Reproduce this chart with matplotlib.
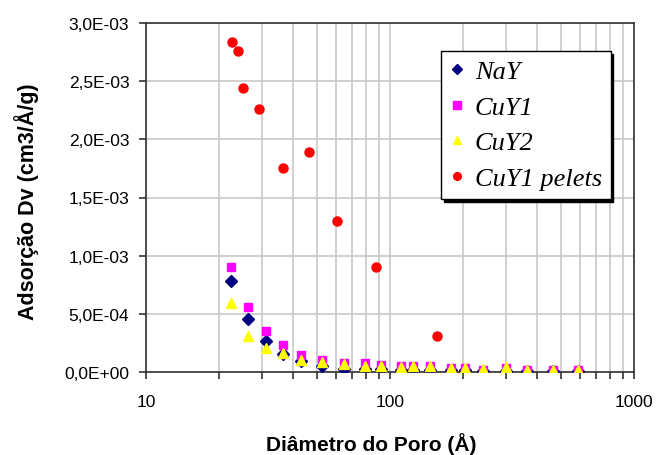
import matplotlib
matplotlib.use("Agg")
import matplotlib.pyplot as plt
from matplotlib.ticker import FuncFormatter, LogLocator, NullFormatter

plt.rcParams["font.family"] = ["Liberation Sans", "DejaVu Sans"]

# pore diameter (Å) shared by the powder samples
diam = [22.3, 26.2, 31.0, 36.6, 43.3, 52.5, 65.0, 79.3, 92.0, 111.2,
        124.2, 145.2, 177, 202, 240, 298, 366, 467, 590]
nay = [7.85e-4, 4.56e-4, 2.64e-4, 1.55e-4, 9.7e-5, 5.4e-5, 3.0e-5, 2.6e-5, 2.2e-5, 2.0e-5,
       1.8e-5, 1.6e-5, 1.5e-5, 1.4e-5, 1.2e-5, 1.2e-5, 1.0e-5, 1.0e-5, 1.0e-5]
cuy1 = [9.0e-4, 5.56e-4, 3.5e-4, 2.32e-4, 1.46e-4, 1.03e-4, 7.7e-5, 7.7e-5, 6.3e-5, 5.4e-5,
        5.4e-5, 5.4e-5, 3.4e-5, 3.4e-5, 2.0e-5, 3.4e-5, 2.0e-5, 2.0e-5, 2.0e-5]
cuy2 = [5.9e-4, 3.07e-4, 2.04e-4, 1.63e-4, 1.06e-4, 8.3e-5, 6.9e-5, 5.4e-5, 5.4e-5, 4.6e-5,
        5.4e-5, 5.4e-5, 3.4e-5, 3.4e-5, 2.6e-5, 4.0e-5, 2.0e-5, 2.0e-5, 2.0e-5]

# pellets have their own diameters
diam_pel = [22.5, 23.8, 25.0, 29.0, 36.4, 46.5, 60.8, 87.7, 155.6]
cuy1_pel = [2.84e-3, 2.756e-3, 2.44e-3, 2.263e-3, 1.753e-3, 1.89e-3, 1.30e-3, 0.90e-3, 0.312e-3]

W, H = 658, 456
fig = plt.figure(figsize=(W / 100, H / 100), dpi=100)
ax = fig.add_axes([146 / W, 83 / H, (634 - 146) / W, (373 - 24) / H])

ax.plot(diam, nay, ls="none", marker="D", ms=6.2, color="#000080", label="NaY", zorder=3)
ax.plot(diam, cuy1, ls="none", marker="s", ms=6.3, color="#ff00ff", label="CuY1", zorder=4)
ax.plot(diam, cuy2, ls="none", marker="^", ms=7.5, color="#ffff00", label="CuY2", zorder=5)
ax.plot(diam_pel, cuy1_pel, ls="none", marker="o", ms=6.5, color="#ff0000",
        label="CuY1 pelets", zorder=6)

ax.set_xscale("log")
ax.set_xlim(10, 1000)
ax.set_ylim(0, 3.0e-3)
ax.set_yticks([i * 0.5e-3 for i in range(7)])
ax.yaxis.set_major_formatter(FuncFormatter(
    lambda v, p: f"{v:.1E}".replace(".", ",") if v != 0 else "0,0E+00"))
ax.xaxis.set_major_formatter(FuncFormatter(lambda v, p: f"{v:g}"))
ax.xaxis.set_minor_locator(LogLocator(base=10, subs=range(2, 10)))
ax.xaxis.set_minor_formatter(NullFormatter())

ax.grid(True, which="both", axis="x", color="#c8c8c8", lw=1.2)
ax.grid(True, which="major", axis="y", color="#c8c8c8", lw=1.2)
ax.set_axisbelow(True)

for s in ax.spines.values():
    s.set_color("#333333")
    s.set_linewidth(1.2)
ax.tick_params(axis="both", which="both", direction="out", color="#333333", width=1.2)
ax.tick_params(axis="both", which="major", length=5, labelsize=12.5)
ax.tick_params(axis="y", which="major", pad=7)
ax.tick_params(axis="x", which="major", pad=11)
ax.tick_params(axis="x", which="minor", length=5)

ax.set_xlabel("Diâmetro do Poro (Å)", fontsize=15, fontweight="bold")
ax.set_ylabel("Adsorção Dv (cm3/Å/g)", fontsize=15.5, fontweight="bold")
ax.xaxis.set_label_coords((371 - 146) / 488, (373 - 433) / 349)
ax.yaxis.set_label_coords((39 - 146) / 488, 0.49)

leg = ax.legend(loc="upper left", bbox_to_anchor=(441 / W, 1 - 52 / H),
                bbox_transform=fig.transFigure, frameon=True, fancybox=False,
                shadow={"color": "black", "alpha": 1}, framealpha=1,
                prop={"family": "Liberation Serif", "style": "italic", "size": 19},
                handlelength=0.55, handletextpad=0.4, labelspacing=0.46,
                borderpad=0.33, borderaxespad=0, markerscale=0.85)
leg.get_frame().set_edgecolor("black")
leg.get_frame().set_linewidth(1.0)

fig.savefig("out.png", dpi=100)
